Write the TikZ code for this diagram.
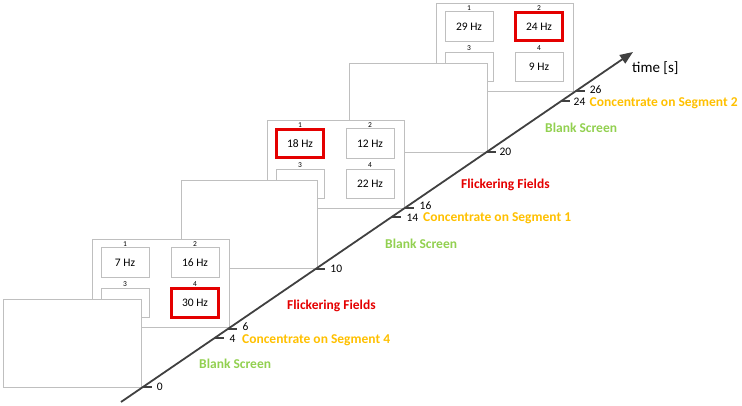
\documentclass[tikz,border=0pt]{standalone}
\usepackage{fontspec}
\setmainfont{Carlito}
\usetikzlibrary{arrows.meta,calc}
\definecolor{gridgray}{RGB}{191,191,191}
\definecolor{axisgray}{RGB}{64,64,64}
\definecolor{hotred}{RGB}{228,0,0}
\definecolor{blankgreen}{RGB}{146,208,80}
\definecolor{focusorange}{RGB}{255,192,0}
\tikzset{
  screen/.style={draw=gridgray, fill=white, line width=0.9pt},
  hzbox/.style={draw=gridgray, fill=white, line width=0.9pt, minimum width=48pt, minimum height=29.5pt, inner sep=0pt, font=\fontsize{11.5}{12}\selectfont},
  hotbox/.style={draw=hotred, line width=3pt, minimum width=46.5pt, minimum height=28.5pt},
  idx/.style={inner sep=0pt, font=\fontsize{7.5}{8}\selectfont},
  axis/.style={draw=axisgray, line width=1.8pt, -{Triangle[length=13pt,width=10pt]}},
  tickmark/.style={draw=axisgray, line width=1.8pt},
  ticklab/.style={anchor=west, inner sep=0pt, font=\fontsize{11.5}{12}\selectfont},
  phase/.style={anchor=base west, inner sep=0pt, font=\fontsize{13.5}{14}\selectfont\bfseries},
}
\newcommand{\flickframe}[8]{%
  \tikzset{bxa/.style={},bxb/.style={},bxc/.style={},bxd/.style={},bx#8/.style={hotbox}}%
  \draw[screen] (#2,#3) rectangle ++(137,88);
  \node[hzbox,bxa] (#1-1) at (#2+33,#3+23.5) {#4};
  \node[hzbox,bxb] (#1-2) at (#2+103,#3+23.5) {#5};
  \node[hzbox,bxc] (#1-3) at (#2+33,#3+64) {#6};
  \node[hzbox,bxd] (#1-4) at (#2+103,#3+64) {#7};
  \node[idx] (#1-n1) at (#2+33,#3+5) {1};
  \node[idx] (#1-n2) at (#2+103,#3+5) {2};
  \node[idx] (#1-n3) at (#2+33,#3+45) {3};
  \node[idx] (#1-n4) at (#2+103,#3+45) {4};
}
\begin{document}
\begin{tikzpicture}[x=1pt,y=-1pt]
\useasboundingbox (0,0) rectangle (742,406);
% back to front
\flickframe{fc}{436}{3}{29 Hz}{24 Hz}{}{9 Hz}{b}
\draw[screen] (349,63) rectangle (487,152);
\flickframe{fb}{267}{120}{18 Hz}{12 Hz}{}{22 Hz}{a}
\draw[screen] (181,180) rectangle (317,268);
\flickframe{fa}{92}{239}{7 Hz}{16 Hz}{}{30 Hz}{d}
\draw[screen] (3,299) rectangle (141,387);
% axis
\coordinate (ax0) at (121,402);
\coordinate (ax1) at (633,52);
\draw[axis] (ax0) -- (ax1);
\foreach \f/\lab/\ys/\xs in {0.0429/0/0/4, 0.1829/4/-0.5/5, 0.2086/6/2.5/5, 0.38/10/0/5, 0.5286/14/-0.5/5, 0.5543/16/2.5/5, 0.7143/20/0/3, 0.86/24/-1/2.5, 0.8886/26/1/4} {
  \coordinate (p\lab) at ($(ax0)!\f!(ax1)$);
  \draw[tickmark] (p\lab) -- ++(9,0) node[ticklab, xshift=\xs pt, yshift=\ys pt] (l\lab) {\lab};
}
\node[anchor=west, inner sep=0pt, font=\fontsize{15}{16}\selectfont] (tlab) at (632,68) {time [s]};
% phases
\node[phase, text=blankgreen] (ph1) at (199,368.3) {Blank Screen};
\node[phase, text=focusorange] (ph2) at (242,343.8) {Concentrate on Segment 4};
\node[phase, text=hotred] (ph3) at (287,309.3) {Flickering Fields};
\node[phase, text=blankgreen] (ph4) at (385,248.3) {Blank Screen};
\node[phase, text=focusorange] (ph5) at (423,221.8) {Concentrate on Segment 1};
\node[phase, text=hotred] (ph6) at (461,188.3) {Flickering Fields};
\node[phase, text=blankgreen] (ph7) at (545,132.3) {Blank Screen};
\node[phase, text=focusorange] (ph8) at (589.5,106.3) {Concentrate on Segment 2};
\end{tikzpicture}
\end{document}
